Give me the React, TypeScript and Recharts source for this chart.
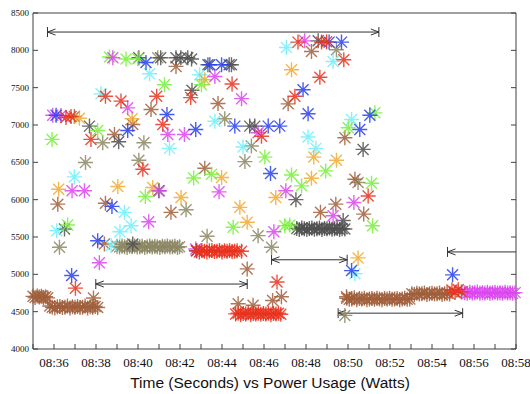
import { ReferenceLine, Scatter, ScatterChart, XAxis, YAxis } from 'recharts';

type Pt = [number, number];

// x = minutes after 08:00, y = watts
const minuteTicks = [35, 36, 37, 38, 39, 40, 41, 42, 43, 44, 45, 46, 47, 48, 49, 50, 51, 52, 53, 54, 55, 56, 57, 58];
const wattTicks = [4000, 4500, 5000, 5500, 6000, 6500, 7000, 7500, 8000, 8500];

const redPts: Pt[] = [
    [36.57, 7100], [36.81, 7113], [38.45, 7385], [39.19, 7320], [37.76, 6807],
    [40.89, 7385], [41.18, 7007], [40.23, 6407], [42.51, 7367], [44.48, 7550],
    [45.88, 6850], [47.62, 8110], [48.74, 8110], [48.98, 8115], [48.66, 7640],
    [47.47, 7385], [49.8, 7873], [37.02, 4815], [46.62, 4897], [50.96, 6050],
    [54.95, 4790], [55.1, 4760], [55.25, 4795], [55.4, 4765],
];
const redBandHigh: Pt[] = [
    [42.8, 5315], [42.92, 5300], [43.04, 5320], [43.16, 5310], [43.28, 5300], [43.4, 5315],
    [43.52, 5320], [43.64, 5305], [43.76, 5310], [43.88, 5320], [44.0, 5300], [44.12, 5315],
    [44.24, 5310], [44.36, 5320], [44.48, 5305], [44.6, 5310], [44.72, 5315], [44.93, 5310],
];
const redBandLow: Pt[] = [
    [44.65, 4470], [44.77, 4480], [44.89, 4460], [45.01, 4475], [45.13, 4470], [45.25, 4485],
    [45.37, 4460], [45.49, 4475], [45.61, 4470], [45.73, 4480], [45.85, 4465], [45.97, 4475],
    [46.09, 4470], [46.21, 4480], [46.33, 4460], [46.45, 4475], [46.57, 4470], [46.69, 4480], [46.8, 4465],
];
const greenPts: Pt[] = [
    [38.64, 7910], [39.43, 7883], [39.99, 7887], [41.26, 7540], [35.91, 6807], [38.08, 6927],
    [42.65, 6290], [43.02, 7540], [43.5, 6340], [46.04, 6570], [47.31, 6330], [48.94, 6385],
    [50.01, 6963], [51.28, 7163], [51.12, 6220], [51.17, 5650], [40.35, 6043], [36.65, 5660],
    [44.53, 5630], [47.79, 6185], [46.99, 5650], [47.23, 5660],
];
const bluePts: Pt[] = [
    [36.1, 7130], [40.38, 7837], [41.38, 7140], [39.51, 6927], [42.75, 6940], [43.42, 7807],
    [43.98, 7807], [44.61, 6985], [46.2, 6985], [46.75, 6985], [46.31, 6350], [49.1, 8110],
    [49.69, 8110], [47.86, 7473], [48.1, 7150], [51.04, 7130], [50.56, 6940], [38.76, 5910],
    [38.08, 5450], [36.84, 4985], [42.78, 5315], [50.17, 5050], [54.98, 4993],
];
const magentaPts: Pt[] = [
    [35.94, 7130], [36.33, 7127], [38.8, 7900], [39.51, 7230], [41.42, 6873], [42.21, 6873],
    [43.66, 7650], [44.93, 7353], [45.72, 6897], [47.94, 8127], [36.86, 6120], [37.45, 6120],
    [41.02, 6120], [40.51, 5705], [38.16, 5155], [43.86, 6105], [46.47, 5570], [47.04, 6120],
    [49.29, 5785], [50.28, 5963], [42.75, 5340],
];
const magentaBand: Pt[] = [
    [55.56, 4755], [55.68, 4745], [55.8, 4760], [55.92, 4750], [56.04, 4755], [56.16, 4765],
    [56.28, 4745], [56.4, 4755], [56.52, 4750], [56.64, 4760], [56.76, 4745], [56.88, 4755],
    [57.0, 4760], [57.12, 4750], [57.24, 4755], [57.36, 4745], [57.48, 4760], [57.6, 4750],
    [57.72, 4755], [57.84, 4745], [57.96, 4755],
];
const cyanPts: Pt[] = [
    [38.24, 7417], [40.55, 7687], [41.5, 6687], [36.97, 6305], [42.94, 7673], [43.66, 7050],
    [45.0, 6705], [47.07, 8037], [49.29, 7850], [48.1, 6840], [48.47, 6687], [50.17, 7073],
    [39.35, 5830], [39.67, 5650], [39.14, 5570], [36.13, 5585], [38.72, 5385], [50.33, 5008],
    [55.47, 4767],
];
const orangePts: Pt[] = [
    [37.21, 7090], [39.72, 7083], [43.18, 7607], [43.98, 6297], [47.31, 7740], [48.37, 6570],
    [49.45, 6527], [48.26, 6287], [36.22, 6140], [39.04, 6177], [40.7, 6163], [42.05, 6030],
    [44.85, 5897], [45.2, 5697], [46.56, 6030], [50.48, 5220],
];
const brownPts: Pt[] = [
    [36.97, 7113], [41.81, 7785], [40.62, 7207], [38.88, 6873], [39.75, 7007], [43.81, 7287],
    [48.26, 7985], [47.15, 7283], [49.85, 6830], [43.18, 6420], [36.18, 5940], [38.45, 5953],
    [41.57, 5830], [38.4, 5407], [48.69, 5830], [49.42, 5940], [50.75, 5807], [50.33, 6273],
    [37.88, 4683], [45.2, 5073], [46.83, 4700], [46.41, 4650], [44.77, 4607], [45.48, 4585],
    [49.93, 4700],
];
const brownBandA: Pt[] = [
    [35.0, 4705], [35.1, 4690], [35.2, 4710], [35.3, 4695], [35.4, 4705], [35.5, 4690], [35.6, 4700], [35.7, 4685],
];
const brownBandB: Pt[] = [
    [35.8, 4575], [35.92, 4560], [36.04, 4550], [36.16, 4565], [36.28, 4570], [36.4, 4555],
    [36.52, 4560], [36.64, 4575], [36.76, 4550], [36.88, 4565], [37.0, 4560], [37.12, 4570],
    [37.24, 4555], [37.36, 4560], [37.48, 4575], [37.6, 4550], [37.72, 4565], [37.84, 4560],
    [37.96, 4570], [38.08, 4555],
];
const brownBandC: Pt[] = [
    [49.94, 4680], [50.06, 4665], [50.18, 4670], [50.3, 4685], [50.42, 4660], [50.54, 4675],
    [50.66, 4670], [50.78, 4680], [50.9, 4660], [51.02, 4670], [51.14, 4675], [51.26, 4665],
    [51.38, 4680], [51.5, 4670], [51.62, 4660], [51.74, 4675], [51.86, 4670], [51.98, 4680],
    [52.1, 4665], [52.22, 4670], [52.34, 4675], [52.46, 4660], [52.58, 4670], [52.7, 4680],
    [52.82, 4665], [52.94, 4670],
];
const brownBandD: Pt[] = [
    [53.04, 4740], [53.16, 4730], [53.28, 4745], [53.4, 4735], [53.52, 4740], [53.64, 4750],
    [53.76, 4730], [53.88, 4740], [54.0, 4745], [54.12, 4735], [54.24, 4740], [54.36, 4750],
    [54.48, 4730], [54.6, 4740], [54.72, 4745], [54.84, 4735],
];
const olivePts: Pt[] = [
    [40.94, 7900], [38.32, 6763], [40.28, 6763], [37.5, 6497], [40.04, 6527], [44.13, 7083],
    [45.4, 6718], [45.09, 6510], [49.45, 8007], [36.26, 5363], [42.29, 5865], [43.29, 5510],
    [45.72, 5518], [46.36, 5363], [50.48, 6230], [49.85, 4450],
];
const oliveBand: Pt[] = [
    [39.0, 5375], [39.12, 5365], [39.24, 5380], [39.36, 5370], [39.48, 5360], [39.6, 5375],
    [39.72, 5370], [39.84, 5380], [39.96, 5365], [40.08, 5370], [40.2, 5375], [40.32, 5360],
    [40.44, 5370], [40.56, 5380], [40.68, 5365], [40.8, 5375], [40.92, 5370], [41.04, 5360],
    [41.16, 5375], [41.28, 5370], [41.4, 5380], [41.52, 5365], [41.64, 5370], [41.76, 5375],
    [41.88, 5360], [41.98, 5370],
];
const grayPts: Pt[] = [
    [40.04, 7900], [41.08, 7900], [41.81, 7900], [42.04, 7900], [42.37, 7900], [42.55, 7883],
    [43.33, 7807], [44.34, 7807], [44.45, 7807], [42.57, 7465], [37.69, 6985], [39.08, 6775],
    [45.32, 6985], [45.56, 6985], [48.58, 8127], [50.72, 6673], [36.5, 5607], [39.75, 5407],
    [40.99, 6120], [47.52, 6000], [49.77, 5720], [49.85, 5607],
];
const grayBand: Pt[] = [
    [47.56, 5615], [47.68, 5600], [47.8, 5620], [47.92, 5610], [48.04, 5600], [48.16, 5615],
    [48.28, 5620], [48.4, 5605], [48.52, 5610], [48.64, 5620], [48.76, 5600], [48.88, 5615],
    [49.0, 5610], [49.12, 5620], [49.24, 5605], [49.36, 5610], [49.48, 5615], [49.6, 5600], [49.72, 5610],
];

// interval arrows: from/to in minutes, level in watts
const spans = [
    { from: 35.69, to: 51.47, level: 8245, heads: 'both' },
    { from: 37.99, to: 45.2, level: 4870, heads: 'both' },
    { from: 46.36, to: 49.96, level: 5195, heads: 'both' },
    { from: 49.53, to: 55.46, level: 4480, heads: 'both' },
    { from: 54.74, to: 58, level: 5300, heads: 'start' },
];

const axisColor = '#404040';
const serif = "'Liberation Serif', 'DejaVu Serif', serif";

const toRows = (pts: Pt[]) => pts.map(([t, w]) => ({ t, w }));

const series = [
    { key: 'olive', color: '#8c8764', pts: [...olivePts, ...oliveBand] },
    { key: 'brown', color: '#a05f3c', pts: [...brownPts, ...brownBandA, ...brownBandB, ...brownBandC, ...brownBandD] },
    { key: 'gray', color: '#505050', pts: [...grayPts, ...grayBand] },
    { key: 'cyan', color: '#6ef0fa', pts: cyanPts },
    { key: 'orange', color: '#f0aa32', pts: orangePts },
    { key: 'green', color: '#78f03c', pts: greenPts },
    { key: 'magenta', color: '#dc46f0', pts: [...magentaPts, ...magentaBand] },
    { key: 'blue', color: '#2840f0', pts: bluePts },
    { key: 'red', color: '#e8321e', pts: [...redPts, ...redBandHigh, ...redBandLow] },
];

const Asterisk = ({ cx, cy, color }: { cx?: number; cy?: number; color: string }) => {
    if (cx == null || cy == null) return null;
    const r = 7.5;
    const d = 5.5;
    return (
        <path
            d={`M${cx - r},${cy}H${cx + r}M${cx},${cy - r}V${cy + r}M${cx - d},${cy - d}L${cx + d},${cy + d}M${cx - d},${cy + d}L${cx + d},${cy - d}`}
            stroke={color}
            strokeWidth={1.4}
            strokeOpacity={0.85}
            fill="none"
        />
    );
};

const Span = (props: any) => {
    const { x1, y1, x2, heads } = props;
    const bar = 5;
    const len = 8;
    const w = 3;
    return (
        <g stroke="#333" strokeWidth={1} fill="none">
            <line x1={x1} y1={y1} x2={x2} y2={y1} />
            {(heads === 'both' || heads === 'start') && (
                <>
                    <line x1={x1} y1={y1 - bar} x2={x1} y2={y1 + bar} />
                    <polyline points={`${x1 + len},${y1 - w} ${x1},${y1} ${x1 + len},${y1 + w}`} />
                </>
            )}
            {heads === 'both' && (
                <>
                    <line x1={x2} y1={y1 - bar} x2={x2} y2={y1 + bar} />
                    <polyline points={`${x2 - len},${y1 - w} ${x2},${y1} ${x2 - len},${y1 + w}`} />
                </>
            )}
        </g>
    );
};

const BottomTick = (props: any) => {
    const { x, y, payload } = props;
    const m = payload.value;
    return (
        <g>
            <line x1={x} y1={y} x2={x} y2={y - 5} stroke={axisColor} />
            {m % 2 === 0 && m >= 36 && (
                <text x={x} y={y + 17.5} textAnchor="middle" fontSize={13} fontFamily={serif} fill="#111">
                    {`08:${m}`}
                </text>
            )}
        </g>
    );
};

const TopTick = (props: any) => {
    const { x, y } = props;
    return <line x1={x} y1={y} x2={x} y2={y + 5} stroke={axisColor} />;
};

const LeftTick = (props: any) => {
    const { x, y, payload } = props;
    return (
        <g>
            <line x1={x} y1={y} x2={x + 5} y2={y} stroke={axisColor} />
            <text x={x - 4} y={y + 3} textAnchor="end" fontSize={9} fontFamily={serif} fill="#111">
                {payload.value}
            </text>
        </g>
    );
};

const RightTick = (props: any) => {
    const { x, y } = props;
    return <line x1={x} y1={y} x2={x - 5} y2={y} stroke={axisColor} />;
};

const AxisTitle = (props: any) => {
    const vb = props.viewBox ?? { x: 33, y: 349, width: 483, height: 45 };
    return (
        <text
            x={vb.x + vb.width / 2 - 4.5}
            y={vb.y + vb.height - 6.5}
            textAnchor="middle"
            fontSize={15.5}
            fontFamily="'Liberation Sans', Arial, sans-serif"
            fill="#111"
        >
            Time (Seconds) vs Power Usage (Watts)
        </text>
    );
};

export default function App() {
    return (
        <div style={{ position: 'absolute', left: 0, top: 0, width: 530, height: 394, background: '#fff' }}>
            <ScatterChart width={530} height={394} margin={{ top: 0, right: 0, bottom: 0, left: 0 }}>
                <XAxis
                    dataKey="t"
                    type="number"
                    domain={[35, 58]}
                    ticks={minuteTicks}
                    interval={0}
                    height={45}
                    tickSize={0}
                    tickMargin={0}
                    tickLine={false}
                    axisLine={{ stroke: axisColor }}
                    tick={BottomTick}
                    label={{ content: AxisTitle }}
                />
                <XAxis
                    xAxisId="top"
                    orientation="top"
                    type="number"
                    domain={[35, 58]}
                    ticks={minuteTicks}
                    interval={0}
                    height={13}
                    tickSize={0}
                    tickMargin={0}
                    tickLine={false}
                    axisLine={{ stroke: axisColor }}
                    tick={TopTick}
                    allowDataOverflow
                />
                <YAxis
                    dataKey="w"
                    type="number"
                    domain={[4000, 8500]}
                    ticks={wattTicks}
                    interval={0}
                    width={33}
                    tickSize={0}
                    tickMargin={0}
                    tickLine={false}
                    axisLine={{ stroke: axisColor }}
                    tick={LeftTick}
                />
                <YAxis
                    yAxisId="right"
                    orientation="right"
                    type="number"
                    domain={[4000, 8500]}
                    ticks={wattTicks}
                    interval={0}
                    width={14}
                    tickSize={0}
                    tickMargin={0}
                    tickLine={false}
                    axisLine={{ stroke: axisColor }}
                    tick={RightTick}
                    allowDataOverflow
                />
                {series.map((s) => (
                    <Scatter
                        key={s.key}
                        data={toRows(s.pts)}
                        fill={s.color}
                        isAnimationActive={false}
                        shape={(p: any) => <Asterisk cx={p.cx} cy={p.cy} color={s.color} />}
                    />
                ))}
                {spans.map((a, i) => (
                    <ReferenceLine
                        key={`span-${i}`}
                        segment={[
                            { x: a.from, y: a.level },
                            { x: a.to, y: a.level },
                        ]}
                        ifOverflow="visible"
                        shape={(p: any) => <Span {...p} heads={a.heads} />}
                    />
                ))}
            </ScatterChart>
        </div>
    );
}
